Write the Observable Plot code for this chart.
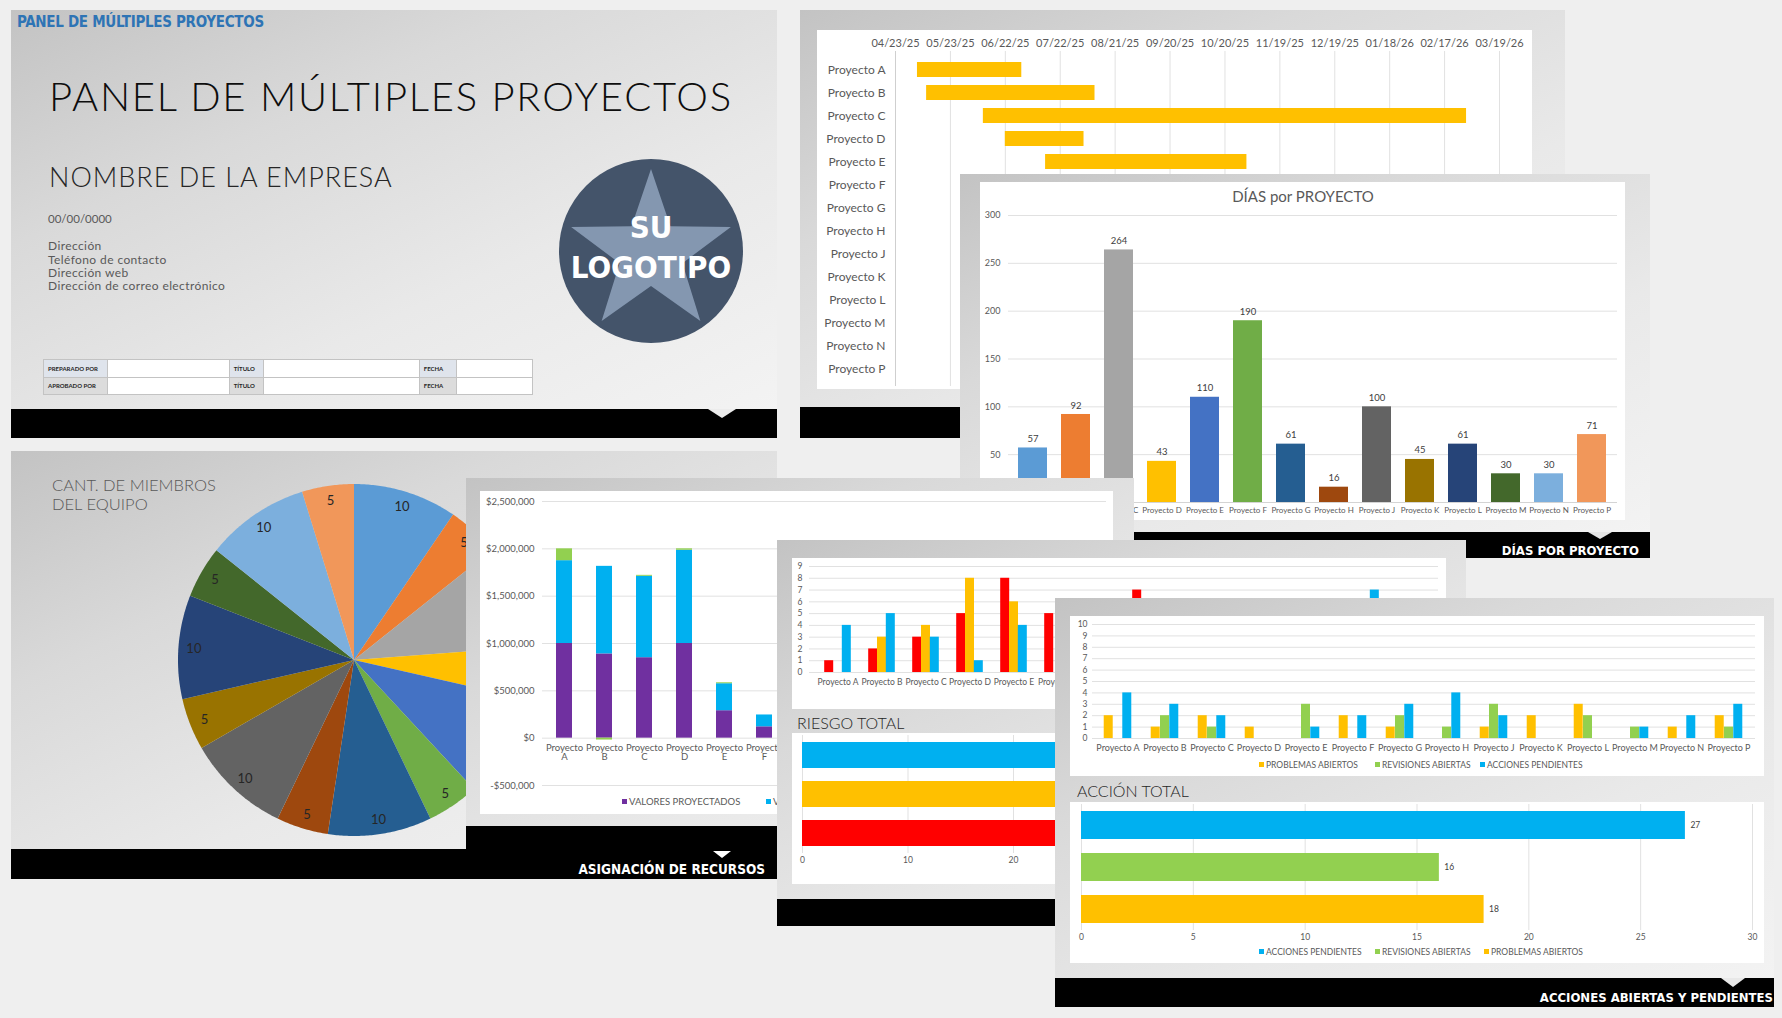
<!DOCTYPE html>
<html lang="es"><head><meta charset="utf-8">
<script src="https://cdn.jsdelivr.net/npm/d3@7"></script>
<script src="https://cdn.jsdelivr.net/npm/@observablehq/plot@0.6"></script>
<style>
html,body{margin:0;padding:0}
body{width:1782px;height:1018px;background:#efefef;overflow:hidden;position:relative;font-family:Lato,"Noto Sans","DejaVu Sans",sans-serif}
.p{position:absolute;background:linear-gradient(155deg,#c3c3c3 0%,#d9d9d9 30%,#e9e9e9 62%,#f4f4f4 100%)}
.b{position:absolute;background:#000}
.w{position:absolute;background:#fff}
.t{position:absolute;white-space:nowrap;line-height:1}
.c{font-family:"Liberation Sans Narrow","Arial Narrow","DejaVu Sans Condensed",sans-serif;font-weight:700}
.abs{position:absolute}
.sq{display:inline-block;width:5px;height:5px;margin-right:2px;vertical-align:middle;position:relative;top:-1px}
table.tb{position:absolute;border-collapse:collapse;font-family:Lato,sans-serif;font-weight:700;font-size:6px;color:#262626}
table.tb td{border:1px solid #c3c3c3;height:16.5px;padding:0 0 0 4px;background:#fff}
</style></head><body>
<script>
// ---------- DATA ----------
const projects = ["Proyecto A","Proyecto B","Proyecto C","Proyecto D","Proyecto E","Proyecto F","Proyecto G","Proyecto H","Proyecto J","Proyecto K","Proyecto L","Proyecto M","Proyecto N","Proyecto P"];

// Gantt (visible rows)
const ganttProjects = ["Proyecto A","Proyecto B","Proyecto C","Proyecto D","Proyecto E"];
const ganttStart = ["2025-05-05","2025-05-10","2025-06-10","2025-06-22","2025-07-14"];
const ganttEnd   = ["2025-07-01","2025-08-10","2026-03-01","2025-08-04","2025-11-01"];
const ganttTicks = ["2025-04-23","2025-05-23","2025-06-22","2025-07-22","2025-08-21","2025-09-20","2025-10-20","2025-11-19","2025-12-19","2026-01-18","2026-02-17","2026-03-19"];

// Días por proyecto
const diasValues = [57,92,264,43,110,190,61,16,100,45,61,30,30,71];
const diasTicks = [0,50,100,150,200,250,300];

// Miembros del equipo
const teamValues = [10,5,10,5,10,5,10,5,10,5,10,5,10,5];

// Asignación de recursos
const resProjects = ["Proyecto A","Proyecto B","Proyecto C","Proyecto D","Proyecto E","Proyecto F"];
const resSeries = ["VALORES PROYECTADOS","VALORES REALES","VARIACIÓN"];
const resProjected = [1000000,890000,850000,1000000,290000,120000];
const resActual    = [875000,925000,860000,985000,285000,125000];
const resVariance  = [125000,-20000,10000,15000,10000,0];
const resTicks = [-500000,0,500000,1000000,1500000,2000000,2500000];

// Riesgo (null = oculto en la imagen)
const riskSeries = ["RIESGO ALTO","RIESGO MEDIO","RIESGO BAJO"];
const riskHigh = [1,2,3,5,8,5,null,7,null,null,null,null,null,null];
const riskMed  = [0,3,4,8,6,null,null,null,null,null,null,null,null,null];
const riskLow  = [4,5,3,1,4,null,null,null,null,null,null,null,7,null];
const riskTicks = [0,1,2,3,4,5,6,7,8,9];
const riskTotalLabels = ["RIESGO BAJO","RIESGO MEDIO","RIESGO ALTO"];
const riskTotalValues = [40,38,36];
const riskTotalTicks = [0,10,20,30,40,50,60];

// Acciones
const actSeries = ["PROBLEMAS ABIERTOS","REVISIONES ABIERTAS","ACCIONES PENDIENTES"];
const actProblems = [2,1,2,1,0,2,1,0,1,2,3,0,1,2];
const actReviews  = [0,2,1,0,3,0,2,1,3,0,2,1,0,1];
const actPending  = [4,3,2,0,1,2,3,4,2,0,0,1,2,3];
const actTicks = [0,1,2,3,4,5,6,7,8,9,10];
const actTotalLabels = ["ACCIONES PENDIENTES","REVISIONES ABIERTAS","PROBLEMAS ABIERTOS"];
const actTotalValues = [27,16,18];
const actTotalTicks = [0,5,10,15,20,25,30];

// ---------- STYLES ----------
const FONT = "Lato, 'Noto Sans', sans-serif";
const officeColors = ["#5b9bd5","#ed7d31","#a5a5a5","#ffc000","#4472c4","#70ad47","#255e91","#9e480e","#636363","#997300","#264478","#43682b","#7cafdd","#f1975a"];
const GRID = "#e1e1e1";
const st = (fs) => ({background:"transparent",fontFamily:FONT,fontSize:fs+"px",color:"#595959",overflow:"visible"});

// ---------- HELPERS ----------
function B(cls,x,y,w,h,s={}){const d=document.createElement("div");d.className=cls;Object.assign(d.style,{left:x+"px",top:y+"px",width:w+"px",height:h+"px"},s);document.body.appendChild(d);return d;}
function tri(x,y,w,h,color){return B("abs",x,y,0,0,{width:"0px",height:"0px",borderLeft:(w/2)+"px solid transparent",borderRight:(w/2)+"px solid transparent",borderTop:h+"px solid "+color});}
function T(str,x,base,size,o={}){
  const d=document.createElement("div");d.className="t"+(o.cls?" "+o.cls:"");d.textContent=str;
  d.style.fontSize=size+"px";d.style.top=(base-(o.k||0.88)*size)+"px";
  if(o.align==="right"){d.style.right=(1782-x)+"px";}
  else if(o.align==="center"){d.style.left=(x-400)+"px";d.style.width="800px";d.style.textAlign="center";}
  else d.style.left=x+"px";
  d.style.color=o.color||"#595959";
  if(o.weight)d.style.fontWeight=o.weight;
  if(o.ls!=null)d.style.letterSpacing=o.ls+"px";
  document.body.appendChild(d);return d;
}
function chart(svg,x,y){const d=document.createElement("div");d.className="abs";d.style.left=x+"px";d.style.top=y+"px";d.appendChild(svg);document.body.appendChild(d);}
function legendItem(label,color,x,yc,size){const d=document.createElement("div");d.className="t";d.style.left=x+"px";d.style.top=(yc-size/2)+"px";d.style.fontSize=size+"px";d.style.color="#595959";d.innerHTML=`<span class="sq" style="background:${color}"></span>`;d.appendChild(document.createTextNode(label));document.body.appendChild(d);}
const parseDate = d3.utcParse("%Y-%m-%d");

// ================= PANEL 1: TITLE =================
B("p",11,10,766,428);
T("PANEL DE MÚLTIPLES PROYECTOS",17,28,15,{cls:"c",color:"#2e74b5",k:0.85,ls:-0.3});
T("PANEL DE MÚLTIPLES PROYECTOS",49,111,40,{color:"#0d0d0d",weight:300,ls:1.75});
T("NOMBRE DE LA EMPRESA",49,187,27,{color:"#262626",weight:300,ls:1});
T("00/00/0000",48,223,11.5);
["Dirección","Teléfono de contacto","Dirección web","Dirección de correo electrónico"].forEach((s,i)=>T(s,48,251+i*13.3,12,{ls:0.4}));
{
  const svg=d3.create("svg").attr("width",190).attr("height",190).style("position","absolute").style("left","556px").style("top","156px");
  svg.append("circle").attr("cx",95).attr("cy",95).attr("r",92).attr("fill","#44546a");
  const cx=95,cy=97,R=84,r=33,pts=[];
  for(let k=0;k<10;k++){const a=k*Math.PI/5,rr=k%2?r:R;pts.push([cx+rr*Math.sin(a),cy-rr*Math.cos(a)]);}
  svg.append("polygon").attr("points",pts.map(p=>p.join(",")).join(" ")).attr("fill","#8497b0");
  const tf='"Liberation Sans Narrow","Arial Narrow","DejaVu Sans Condensed",sans-serif';
  svg.append("text").attr("x",95).attr("y",82).attr("text-anchor","middle").attr("fill","#fff").attr("font-family",tf).attr("font-weight",700).attr("font-size",31).text("SU");
  svg.append("text").attr("x",95).attr("y",122).attr("text-anchor","middle").attr("fill","#fff").attr("font-family",tf).attr("font-weight",700).attr("font-size",31).text("LOGOTIPO");
  document.body.appendChild(svg.node());
}
{
  const tb=document.createElement("table");tb.className="tb";tb.style.left="43px";tb.style.top="359px";tb.style.width="490px";
  const widths=[61,126,30,163,33,77];
  [["PREPARADO POR","","TÍTULO","","FECHA",""],["APROBADO POR","","TÍTULO","","FECHA",""]].forEach((row,ri)=>{
    const tr=document.createElement("tr");
    row.forEach((c,ci)=>{const td=document.createElement("td");td.textContent=c;td.style.width=widths[ci]+"px";if(ci%2===0)td.style.background=ri===0?"#dfe4ec":"#dcdcdc";tr.appendChild(td);});
    tb.appendChild(tr);
  });
  document.body.appendChild(tb);
}
B("b",11,409,766,29);
tri(708,409,28,9,"#ececec");

// ================= PANEL 2: GANTT =================
B("p",800,10,765,428);
B("w",817,30,715,359);
{
  const gData=ganttProjects.map((p,i)=>({project:p,start:parseDate(ganttStart[i]),end:parseDate(ganttEnd[i])}));
  const gT=ganttTicks.map(parseDate);
  const svg=Plot.plot({
    width:715,height:359,marginLeft:78,marginRight:33,marginTop:21,marginBottom:3,style:st(11),
    x:{type:"utc",domain:[gT[0],gT[gT.length-1]]},
    y:{domain:projects,paddingInner:0.36,paddingOuter:0.36},
    marks:[
      Plot.ruleX(gT.slice(1),{stroke:GRID}),
      Plot.ruleX(gT.slice(0,1),{stroke:"#cfcfcf"}),
      Plot.barX(gData,{x1:"start",x2:"end",y:"project",fill:"#ffc000"}),
      Plot.axisX(gT,{anchor:"top",tickFormat:d3.utcFormat("%m/%d/%y"),tickSize:0,tickPadding:5,label:null,fontSize:11}),
      Plot.axisY({tickSize:0,tickPadding:10,label:null,fontSize:12})
    ]
  });
  chart(svg,817,30);
}
B("b",800,407,765,31);

// ================= PANEL 3: DÍAS =================
B("p",960,174,690,384);
B("w",980,182,645,338);
T("DÍAS por PROYECTO",1303,202,15,{align:"center"});
{
  const data=projects.map((p,i)=>({project:p,days:diasValues[i]}));
  const svg=Plot.plot({
    width:645,height:338,marginLeft:28,marginRight:8,marginTop:33,marginBottom:18,style:st(9),
    x:{domain:projects,paddingInner:0.32,paddingOuter:0.16},
    y:{domain:[0,300]},
    color:{domain:projects,range:officeColors},
    marks:[
      Plot.ruleY(diasTicks,{stroke:GRID}),
      Plot.barY(data,{x:"project",y:"days",fill:"project"}),
      Plot.ruleY([0],{stroke:"#d4d4d4"}),
      Plot.text(data,{x:"project",y:"days",text:d=>String(d.days),dy:-9,fill:"#404040",fontSize:9.5}),
      Plot.axisX({tickSize:0,tickPadding:5,label:null,fontSize:8}),
      Plot.axisY(diasTicks,{tickSize:0,tickPadding:8,label:null,fontSize:9})
    ]
  });
  chart(svg,980,182);
}
B("b",960,532,690,26);
tri(1588,532,25,7,"#e6e6e6");
T("DÍAS POR PROYECTO",1639,555,13,{align:"right",cls:"c",color:"#fff",k:0.85});

// ================= PANEL 4: PIE =================
B("p",11,451,766,428);
T("CANT. DE MIEMBROS",52,492,16.5,{weight:300});
T("DEL EQUIPO",52,511,16.5,{weight:300});
{
  const arcs=d3.pie().sort(null)(teamValues);
  const wedge=arcs.flatMap((a,i)=>{
    const n=Math.max(2,Math.ceil((a.endAngle-a.startAngle)/0.01));
    return d3.range(n+1).map(k=>{const t=a.startAngle+(a.endAngle-a.startAngle)*k/n;return {project:projects[i],x:Math.sin(t),y:Math.cos(t)};});
  });
  const labels=arcs.map((a,i)=>{const m=(a.startAngle+a.endAngle)/2;return {project:projects[i],v:teamValues[i],x:0.915*Math.sin(m),y:0.915*Math.cos(m)};});
  const svg=Plot.plot({
    width:360,height:360,margin:4,style:st(13),
    x:{domain:[-1,1],axis:null},y:{domain:[-1,1],axis:null},
    color:{domain:projects,range:officeColors},
    marks:[
      Plot.area(wedge,{x1:0,y1:0,x2:"x",y2:"y",z:"project",fill:"project"}),
      Plot.text(labels,{x:"x",y:"y",text:d=>String(d.v),fill:"#262626",fontSize:13})
    ]
  });
  chart(svg,174,480);
}
B("b",11,849,766,30);

// ================= PANEL 5: RECURSOS =================
B("p",466,478,668,401);
B("w",480,491,633,323);
{
  const vals=[resProjected,resActual,resVariance];
  const data=resSeries.flatMap((s,si)=>resProjects.map((p,i)=>({project:p,series:s,value:vals[si][i]})));
  const fmt=d=>(d<0?"-":"")+"$"+d3.format(",")(Math.abs(d));
  const svg=Plot.plot({
    width:633,height:323,marginLeft:62,marginRight:7,marginTop:10,marginBottom:29,style:st(9.5),
    x:{domain:projects,paddingInner:0.6,paddingOuter:0.3,axis:null},
    y:{domain:[-500000,2500000]},
    color:{domain:resSeries,range:["#7030a0","#00b0f0","#92d050"]},
    marks:[
      Plot.ruleY(resTicks,{stroke:GRID}),
      Plot.barY(data,{x:"project",y:"value",fill:"series"}),
      Plot.text(resProjects,{x:d=>d,y:0,text:d=>d.replace(" ","\n"),dy:6,lineAnchor:"top",fill:"#595959",fontSize:9.5}),
      Plot.axisY(resTicks,{tickFormat:fmt,tickSize:0,tickPadding:8,label:null,fontSize:9.5})
    ]
  });
  chart(svg,480,491);
}
legendItem(resSeries[0],"#7030a0",622,802,9.5);
legendItem(resSeries[1],"#00b0f0",766,802,9.5);
legendItem(resSeries[2],"#92d050",870,802,9.5);
B("b",466,826,668,53);
tri(713,851,18,7,"#fff");
T("ASIGNACIÓN DE RECURSOS",765,874,13.5,{align:"right",cls:"c",color:"#fff",k:0.85});

// ================= PANEL 6: RIESGO =================
B("p",777,540,689,386);
B("w",792,558,654,151);
{
  const vals=[riskHigh,riskMed,riskLow];
  const data=riskSeries.flatMap((s,si)=>projects.map((p,i)=>({project:p,series:s,value:vals[si][i]})));
  const bw=629/14*0.196;
  const svg=Plot.plot({
    width:654,height:151,marginLeft:17,marginRight:8,marginTop:8,marginBottom:37,style:st(8.5),
    x:{domain:projects,paddingInner:0.804,paddingOuter:0.402},
    y:{domain:[0,9]},
    color:{domain:riskSeries,range:["#ff0000","#ffc000","#00b0f0"]},
    marks:[
      Plot.ruleY(riskTicks,{stroke:GRID}),
      ...riskSeries.map((s,si)=>Plot.barY(data,{filter:d=>d.series===s&&d.value!=null,x:"project",y:"value",fill:"series",dx:(si-1)*bw})),
      Plot.axisX({tickSize:0,tickPadding:6,label:null,fontSize:8.5}),
      Plot.axisY(riskTicks,{tickSize:0,tickPadding:7,label:null,fontSize:8.5})
    ]
  });
  chart(svg,792,558);
}
T("RIESGO TOTAL",797,729,16,{color:"#262626",weight:300});
B("w",792,733,654,151);
{
  const data=riskTotalLabels.map((l,i)=>({label:l,value:riskTotalValues[i]}));
  const svg=Plot.plot({
    width:654,height:151,marginLeft:10,marginRight:11,marginTop:2,marginBottom:31,style:st(8.5),
    y:{domain:riskTotalLabels,paddingInner:0.337,paddingOuter:0.167,axis:null},
    x:{domain:[0,60]},
    color:{domain:riskTotalLabels,range:["#00b0f0","#ffc000","#ff0000"]},
    marks:[
      Plot.ruleX(riskTotalTicks,{stroke:GRID}),
      Plot.barX(data,{x:"value",y:"label",fill:"label"}),
      Plot.axisX(riskTotalTicks,{tickSize:0,tickPadding:3,label:null,fontSize:8.5})
    ]
  });
  chart(svg,792,733);
}
B("b",777,899,689,27);

// ================= PANEL 7: ACCIONES =================
B("p",1055,598,719,409);
B("w",1070,616,694,160);
{
  const vals=[actProblems,actReviews,actPending];
  const data=actSeries.flatMap((s,si)=>projects.map((p,i)=>({project:p,series:s,value:vals[si][i]})));
  const bw=663/14*0.196;
  const svg=Plot.plot({
    width:694,height:160,marginLeft:22,marginRight:9,marginTop:8,marginBottom:38,style:st(8.5),
    x:{domain:projects,paddingInner:0.804,paddingOuter:0.402},
    y:{domain:[0,10]},
    color:{domain:actSeries,range:["#ffc000","#92d050","#00b0f0"]},
    marks:[
      Plot.ruleY(actTicks,{stroke:GRID}),
      ...actSeries.map((s,si)=>Plot.barY(data,{filter:d=>d.series===s,x:"project",y:"value",fill:"series",dx:(si-1)*bw})),
      Plot.axisX({tickSize:0,tickPadding:6,label:null,fontSize:9}),
      Plot.axisY(actTicks,{tickSize:0,tickPadding:5,label:null,fontSize:8.5})
    ]
  });
  chart(svg,1070,616);
}
legendItem(actSeries[0],"#ffc000",1259,765,8.5);
legendItem(actSeries[1],"#92d050",1375,765,8.5);
legendItem(actSeries[2],"#00b0f0",1480,765,8.5);
T("ACCIÓN TOTAL",1077,797,16,{color:"#262626",weight:300});
B("w",1070,802,694,161);
{
  const data=actTotalLabels.map((l,i)=>({label:l,value:actTotalValues[i]}));
  const svg=Plot.plot({
    width:694,height:161,marginLeft:11,marginRight:12,marginTop:2,marginBottom:33,style:st(8.5),
    y:{domain:actTotalLabels,paddingInner:0.337,paddingOuter:0.167,axis:null},
    x:{domain:[0,30]},
    color:{domain:actTotalLabels,range:["#00b0f0","#92d050","#ffc000"]},
    marks:[
      Plot.ruleX(actTotalTicks,{stroke:GRID}),
      Plot.barX(data,{x:"value",y:"label",fill:"label"}),
      Plot.text(data,{x:"value",y:"label",text:d=>String(d.value),dx:5,textAnchor:"start",fill:"#404040",fontSize:8.5}),
      Plot.axisX(actTotalTicks,{tickSize:0,tickPadding:3,label:null,fontSize:8.5})
    ]
  });
  chart(svg,1070,802);
}
legendItem(actTotalLabels[0],"#00b0f0",1259,952,8.5);
legendItem(actTotalLabels[1],"#92d050",1375,952,8.5);
legendItem(actTotalLabels[2],"#ffc000",1484,952,8.5);
B("b",1055,978,719,29);
tri(1721,978,24,9,"#e8e8e8");
T("ACCIONES ABIERTAS Y PENDIENTES",1773,1002,13,{align:"right",cls:"c",color:"#fff",k:0.85});
</script>
</body></html>
